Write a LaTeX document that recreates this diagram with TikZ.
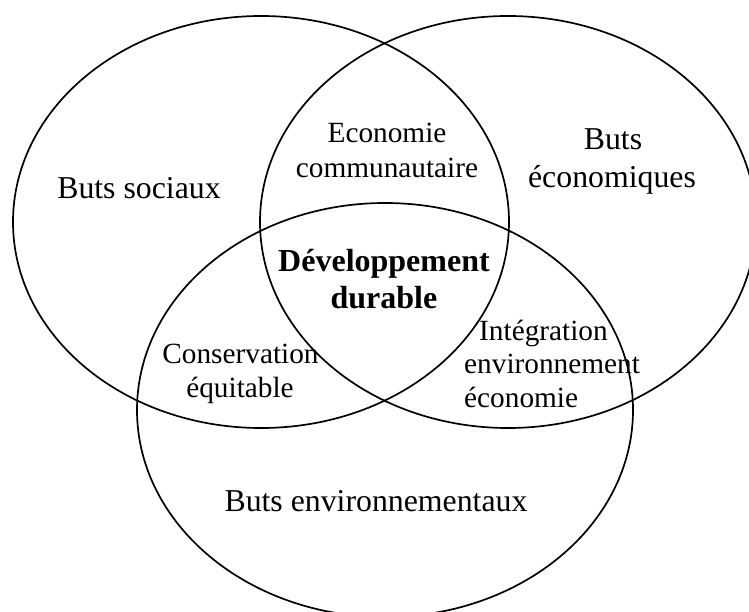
\documentclass[tikz,border=0pt]{standalone}
\usepackage{fontspec}
\setmainfont{Liberation Serif}
\begin{document}
\begin{tikzpicture}[x=1pt,y=-1pt,
  ring/.style={line width=1.7pt, black},
  big/.style={font=\fontsize{31.8}{36.6}\selectfont, anchor=base, inner sep=0pt},
  small/.style={font=\fontsize{29.3}{33.7}\selectfont, anchor=base, inner sep=0pt},
  bold/.style={font=\fontsize{32}{37}\selectfont\bfseries, anchor=base, inner sep=0pt}]
\useasboundingbox (0,0) rectangle (749,612);
\begin{scope}
\clip (0,0) rectangle (749,612);
\draw[ring] (261,222) ellipse [x radius=248, y radius=206];
\draw[ring] (508,222) ellipse [x radius=248, y radius=206];
\draw[ring] (385,410) ellipse [x radius=248, y radius=207];
\end{scope}
\node[big] (soc) at (139,199) {Buts sociaux};
\node[small] (eco1) at (387,143) {Economie};
\node[small] (eco2) at (387,178) {communautaire};
\node[big] (ecn1) at (613,150) {Buts};
\node[big] (ecn2) at (612,187.5) {économiques};
\node[bold] (dd1) at (384,271) {Développement};
\node[bold] (dd2) at (384,308) {durable};
\node[small,anchor=base west] (int1) at (479,340) {Intégration};
\node[small,anchor=base west] (int2) at (464,373.5) {environnement};
\node[small,anchor=base west] (int3) at (464,407) {économie};
\node[small] (con1) at (240.5,363) {Conservation};
\node[small] (con2) at (240,397) {équitable};
\node[big] (env) at (376,511) {Buts environnementaux};
\end{tikzpicture}
\end{document}
